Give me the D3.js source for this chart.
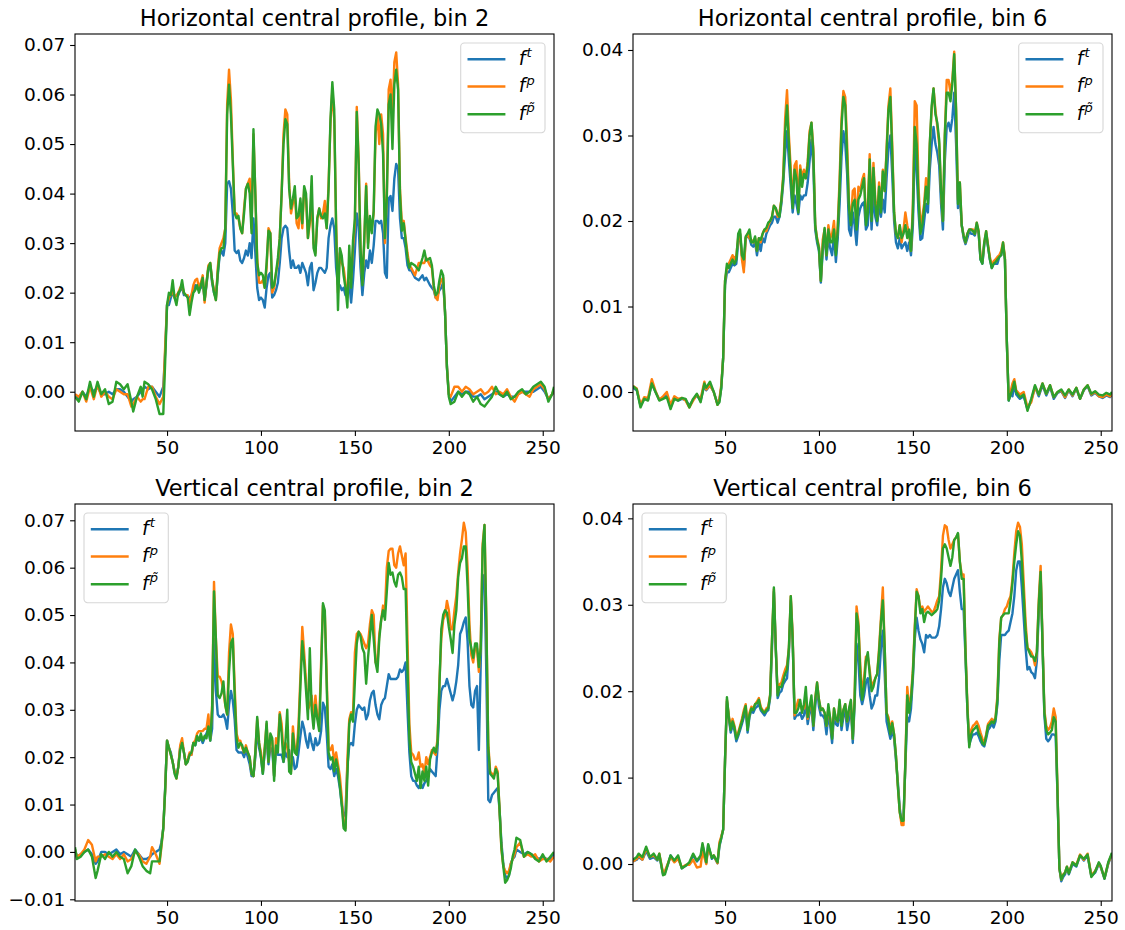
<!DOCTYPE html>
<html>
<head>
<meta charset="utf-8">
<script src="https://cdn.jsdelivr.net/npm/d3@7"></script>
<style>
  html, body { margin: 0; padding: 0; background: #fff; }
  svg { display: block; font-family: "DejaVu Sans", sans-serif; }
</style>
</head>
<body>
<svg id="fig" width="1125" height="930"></svg>
<script>
// ---------------- Horizontal central profile, bin 2 ----------------
const horiz2X = [
  1,3,5,7,9,11,13,15,17,19,
  21,23,25,27,29,31,32,34,36,37,
  38,40,42,44,46,48,49,50,51,52,
  53,54,55,56,57,58,59,60,61,62,
  63,64,65,66,67,68,69,70,71,72,
  73,74,75,76,77,78,79,80,81,82,
  83,84,85,86,87,88,89,90,91,92,
  93,94,95,96,97,98,99,100,101,102,
  103,104,105,106,107,108,109,110,111,112,
  113,114,115,116,117,118,119,120,121,122,
  123,124,125,126,127,128,129,130,131,132,
  133,134,135,136,137,138,139,140,141,142,
  143,144,145,146,147,148,149,150,151,152,
  153,154,155,156,157,158,159,160,161,162,
  163,164,165,166,167,168,169,170,171,172,
  173,174,175,176,177,178,179,180,182,184,
  186,187,188,190,191,192,193,194,195,196,
  197,198,199,200,201,203,205,207,209,211,
  213,215,217,219,221,223,225,227,229,231,
  233,235,237,239,241,243,245,247,249,251,
  253,255,256
];
const horiz2Ft = [
  -0.0005,-0.0015,0,-0.001,0.001,0,0.001,-0.0005,-0.0005,0,
  -0.0005,0.0005,0.0005,0,-0.001,-0.002,-0.0015,-0.001,0,0.0005,
  0.001,0.0005,0.001,0,-0.001,0.001,0.008,0.0175,0.0175,0.019,
  0.02,0.019,0.0195,0.0195,0.0205,0.021,0.0195,0.0195,0.019,0.019,
  0.0195,0.0205,0.0215,0.021,0.0205,0.021,0.0225,0.0185,0.0215,0.025,
  0.0255,0.022,0.02,0.019,0.0235,0.0275,0.0285,0.0275,0.03,0.042,
  0.0425,0.041,0.036,0.0285,0.028,0.0285,0.0265,0.026,0.027,0.0285,
  0.0275,0.03,0.027,0.035,0.028,0.021,0.0185,0.019,0.0185,0.017,
  0.021,0.0235,0.024,0.019,0.0195,0.0205,0.022,0.026,0.031,0.033,
  0.0335,0.033,0.0285,0.025,0.0265,0.025,0.025,0.0255,0.024,0.026,
  0.025,0.024,0.0215,0.025,0.026,0.0205,0.022,0.024,0.025,0.025,
  0.0245,0.024,0.025,0.031,0.0335,0.035,0.033,0.025,0.0215,0.0215,
  0.0205,0.021,0.0195,0.0195,0.022,0.018,0.0225,0.0285,0.036,0.0335,
  0.025,0.0195,0.024,0.0265,0.025,0.0285,0.026,0.0295,0.0345,0.0345,
  0.034,0.0345,0.032,0.024,0.023,0.039,0.0395,0.0365,0.043,0.046,
  0.045,0.035,0.031,0.031,0.029,0.0255,0.0245,0.0245,0.023,0.0225,
  0.0235,0.0225,0.023,0.0215,0.021,0.0205,0.019,0.0195,0.0205,0.021,
  0.022,0.016,0.005,-0.0005,-0.002,-0.001,0,-0.0005,0,0,
  -0.001,-0.001,-0.0005,-0.0015,-0.001,-0.0005,0,-0.0005,-0.001,-0.0005,
  -0.001,-0.001,-0.0005,0,0,0,0,0.0005,0.001,0,
  -0.0015,-0.0005,0
];
const horiz2Fp = [
  -0.0005,-0.001,0,-0.002,0.001,-0.0015,0.0015,-0.001,0,-0.001,
  -0.0015,0.0005,0,-0.0005,-0.0005,-0.003,-0.0025,-0.001,-0.002,-0.0015,
  -0.0015,0.001,0.001,-0.001,-0.0025,-0.001,0.009,0.0175,0.019,0.0195,
  0.0205,0.019,0.0195,0.02,0.021,0.0215,0.02,0.0195,0.0195,0.0175,
  0.0195,0.0215,0.0225,0.0228,0.021,0.022,0.0235,0.018,0.022,0.0255,
  0.026,0.0225,0.0205,0.0185,0.025,0.029,0.03,0.031,0.033,0.058,
  0.065,0.059,0.047,0.036,0.036,0.035,0.033,0.032,0.037,0.041,
  0.042,0.043,0.033,0.052,0.04,0.027,0.022,0.022,0.0225,0.021,
  0.025,0.033,0.032,0.02,0.021,0.024,0.026,0.031,0.04,0.052,
  0.057,0.056,0.042,0.036,0.038,0.04,0.034,0.033,0.038,0.033,
  0.041,0.039,0.031,0.034,0.038,0.03,0.028,0.035,0.037,0.035,
  0.036,0.0385,0.033,0.042,0.054,0.061,0.055,0.034,0.02,0.028,
  0.026,0.025,0.022,0.019,0.025,0.023,0.029,0.034,0.0575,0.047,
  0.029,0.022,0.03,0.042,0.03,0.035,0.033,0.036,0.052,0.056,
  0.05,0.056,0.052,0.03,0.04,0.061,0.063,0.055,0.0665,0.0685,
  0.062,0.041,0.034,0.0345,0.031,0.028,0.0255,0.025,0.0235,0.026,
  0.026,0.026,0.027,0.0255,0.025,0.021,0.019,0.0185,0.0215,0.0225,
  0.023,0.016,0.005,-0.0005,-0.001,0.001,0.001,0,0.001,0.0005,
  -0.0005,0,0.0005,-0.0005,0,0.001,-0.0005,0,-0.0005,0.0005,
  -0.001,-0.002,-0.0005,0,-0.0005,-0.001,0.0005,0.001,0.0015,0.0005,
  -0.0015,-0.0005,0.0005
];
const horiz2Fq = [
  -0.001,-0.002,0,-0.0015,0.002,-0.001,0.002,-0.0005,0.0005,-0.0025,
  -0.002,0.002,0.0015,0.0005,0.0015,-0.002,-0.004,-0.001,0.001,-0.001,
  0.002,0.0015,0.0005,-0.0015,-0.0045,-0.0045,0.006,0.0175,0.02,0.0195,
  0.0225,0.019,0.0175,0.02,0.0205,0.0225,0.02,0.0195,0.019,0.0155,
  0.018,0.02,0.0205,0.0215,0.02,0.0215,0.023,0.0185,0.022,0.025,
  0.026,0.0225,0.02,0.0185,0.024,0.028,0.029,0.029,0.033,0.056,
  0.062,0.056,0.046,0.036,0.035,0.0355,0.033,0.032,0.036,0.041,
  0.042,0.04,0.032,0.053,0.04,0.026,0.0235,0.024,0.0235,0.021,
  0.026,0.0325,0.032,0.021,0.0215,0.024,0.027,0.031,0.04,0.05,
  0.055,0.054,0.041,0.037,0.039,0.0415,0.035,0.0355,0.039,0.034,
  0.0415,0.04,0.031,0.035,0.0435,0.029,0.0275,0.035,0.037,0.0355,
  0.035,0.036,0.033,0.041,0.055,0.0625,0.057,0.033,0.0165,0.029,
  0.0275,0.0235,0.021,0.017,0.0295,0.021,0.0305,0.035,0.0565,0.046,
  0.029,0.0215,0.031,0.0415,0.029,0.0355,0.032,0.0365,0.0535,0.057,
  0.056,0.054,0.048,0.031,0.039,0.058,0.06,0.049,0.062,0.065,
  0.061,0.04,0.0325,0.034,0.0305,0.027,0.025,0.026,0.0255,0.0245,
  0.027,0.0285,0.0265,0.027,0.0255,0.0215,0.0195,0.02,0.0225,0.0245,
  0.0235,0.016,0.005,-0.001,-0.0025,-0.002,0,-0.001,0,-0.0005,
  -0.002,-0.001,-0.0025,-0.003,-0.002,-0.001,0.001,-0.0005,-0.001,0,
  -0.0015,-0.001,0,0.0005,-0.0005,0,0.001,0.0015,0.002,0.001,
  -0.002,-0.0005,0.001
];

// ---------------- Horizontal central profile, bin 6 ----------------
const horiz6X = [
  1,3,5,7,9,11,13,15,17,19,
  21,23,25,27,29,31,33,35,37,39,
  40,42,44,46,47,48,49,50,51,52,
  53,54,55,56,57,58,59,60,61,62,
  63,64,65,66,67,68,69,70,71,72,
  73,74,75,76,77,78,79,80,81,82,
  83,84,85,86,87,88,89,90,91,92,
  93,94,95,96,97,98,99,100,101,102,
  103,104,105,106,107,108,109,110,111,112,
  113,114,115,116,117,118,119,120,121,122,
  123,124,125,126,127,128,129,130,131,132,
  133,134,135,136,137,138,139,140,141,142,
  143,144,145,146,147,148,149,150,151,152,
  153,154,155,156,157,158,159,160,161,162,
  163,164,165,166,167,168,169,170,171,172,
  173,174,175,176,177,178,179,180,181,182,
  183,184,185,186,187,188,189,190,191,192,
  193,194,195,196,197,198,199,200,201,202,
  203,204,205,207,209,211,213,215,217,219,
  221,223,225,227,229,231,233,235,237,239,
  241,243,245,247,249,251,253,255,256
];
const horiz6Ft = [
  0.0005,0.0002,-0.0016,-0.0008,-0.0009,0.001,0,-0.0009,-0.0007,-0.0004,
  -0.0018,-0.0007,-0.001,-0.0008,-0.0009,-0.0016,-0.0009,-0.0004,-0.001,0.0008,
  0.0002,0.0008,0,-0.0014,-0.001,0.0005,0.004,0.0125,0.014,0.014,
  0.0145,0.015,0.0148,0.015,0.0175,0.0185,0.016,0.0145,0.018,0.0182,
  0.018,0.0172,0.017,0.0175,0.016,0.0175,0.0165,0.018,0.0175,0.0185,
  0.019,0.0195,0.0198,0.0205,0.0205,0.0198,0.0205,0.022,0.0245,0.028,
  0.0305,0.027,0.024,0.021,0.023,0.022,0.0208,0.023,0.0225,0.023,
  0.023,0.0245,0.027,0.0295,0.0265,0.019,0.0175,0.0165,0.0128,0.0165,
  0.0185,0.0155,0.018,0.0168,0.016,0.0185,0.0152,0.018,0.022,0.0275,
  0.0305,0.029,0.0255,0.019,0.0183,0.021,0.0195,0.0172,0.0205,0.0215,
  0.022,0.0222,0.019,0.0195,0.024,0.019,0.023,0.0205,0.0195,0.022,
  0.0205,0.0225,0.021,0.025,0.0285,0.03,0.0255,0.02,0.0175,0.0168,
  0.018,0.0168,0.0172,0.0175,0.0165,0.0175,0.016,0.0195,0.0285,0.026,
  0.021,0.0178,0.018,0.02,0.022,0.021,0.026,0.029,0.031,0.029,
  0.028,0.0265,0.022,0.019,0.027,0.031,0.0315,0.0305,0.032,0.035,
  0.029,0.0215,0.023,0.0195,0.018,0.0173,0.018,0.0188,0.0185,0.0185,
  0.0183,0.0195,0.0185,0.0155,0.015,0.0172,0.0185,0.017,0.0155,0.0145,
  0.015,0.015,0.015,0.0158,0.016,0.0172,0.0155,0.006,-0.001,-0.0002,
  -0.0005,0.001,-0.0003,-0.0008,-0.0005,-0.002,-0.001,0.0006,-0.0005,0.0008,
  -0.0004,0.0006,-0.0008,-0.0001,0.0001,-0.0007,0.0002,-0.0005,0.0004,-0.0008,
  0.0002,0.0007,-0.0004,-0.0001,-0.0005,-0.0007,-0.0004,-0.0006,-0.0003
];
const horiz6Fp = [
  0.0007,0.0004,-0.0015,-0.0006,-0.0007,0.0015,0.0001,-0.0009,-0.0005,0,
  -0.0015,-0.0005,-0.0008,-0.0007,-0.001,-0.0018,-0.001,-0.0003,-0.0008,0.0012,
  0.0003,0.0008,0,-0.0015,-0.0008,0.0008,0.004,0.013,0.0145,0.015,
  0.0155,0.016,0.0155,0.016,0.018,0.0185,0.0155,0.014,0.018,0.0185,
  0.018,0.0178,0.0175,0.018,0.0165,0.018,0.0175,0.0185,0.019,0.0188,
  0.0195,0.02,0.0205,0.0218,0.0215,0.0205,0.021,0.0225,0.0255,0.032,
  0.0353,0.03,0.026,0.022,0.0265,0.027,0.0215,0.0265,0.025,0.026,
  0.025,0.027,0.0305,0.0315,0.0285,0.0195,0.018,0.017,0.013,0.0178,
  0.019,0.016,0.0195,0.018,0.0185,0.02,0.0165,0.0195,0.025,0.032,
  0.0352,0.0345,0.029,0.022,0.02,0.0235,0.0238,0.0195,0.024,0.0235,
  0.0248,0.0255,0.0205,0.0215,0.0278,0.0205,0.0268,0.0225,0.0205,0.0245,
  0.0215,0.026,0.0235,0.0285,0.0335,0.0355,0.029,0.021,0.0185,0.018,
  0.0195,0.0175,0.019,0.021,0.0195,0.0185,0.0165,0.022,0.034,0.0335,
  0.024,0.0195,0.0205,0.022,0.025,0.0225,0.029,0.033,0.0355,0.033,
  0.031,0.029,0.0235,0.02,0.03,0.0365,0.0365,0.035,0.0365,0.0398,
  0.033,0.0225,0.0245,0.0195,0.0183,0.0175,0.0185,0.019,0.019,0.019,
  0.0185,0.0198,0.0188,0.0158,0.0153,0.0175,0.0188,0.0172,0.0158,0.0148,
  0.0153,0.0155,0.0158,0.016,0.0165,0.0175,0.0158,0.006,-0.0008,0,
  0.001,0.0015,0.0002,-0.0003,0,-0.0018,-0.0012,0.0006,-0.0003,0.001,
  -0.0002,0.0008,-0.0006,0,0.0002,-0.0006,0.0003,-0.0004,0.0005,-0.0008,
  0.0003,0.0008,-0.0003,0,-0.0005,-0.0006,-0.0003,-0.0005,-0.0002
];
const horiz6Fq = [
  0.0007,0.0003,-0.0018,-0.0008,-0.001,0.001,0,-0.001,-0.0008,-0.0006,
  -0.002,-0.0008,-0.001,-0.0007,-0.0008,-0.0018,-0.0008,-0.0002,-0.0012,0.001,
  0.0005,0.0012,0,-0.0015,-0.0012,0.0005,0.004,0.013,0.015,0.0145,
  0.015,0.0155,0.015,0.0155,0.0185,0.019,0.016,0.0155,0.0182,0.0185,
  0.019,0.0175,0.0175,0.0182,0.0165,0.018,0.0178,0.0185,0.019,0.0192,
  0.0198,0.02,0.0205,0.0218,0.0215,0.0208,0.0205,0.0225,0.025,0.0305,
  0.0335,0.029,0.025,0.0215,0.026,0.025,0.021,0.026,0.024,0.0255,
  0.025,0.0265,0.03,0.0315,0.028,0.0195,0.0178,0.0168,0.013,0.017,
  0.0192,0.016,0.019,0.0175,0.0175,0.019,0.016,0.019,0.024,0.031,
  0.0345,0.0335,0.0275,0.0215,0.0195,0.022,0.0225,0.019,0.0225,0.023,
  0.024,0.025,0.0195,0.021,0.0272,0.02,0.0262,0.022,0.02,0.024,
  0.021,0.0258,0.0235,0.028,0.033,0.0345,0.028,0.021,0.0185,0.018,
  0.0195,0.018,0.0185,0.0195,0.018,0.019,0.0165,0.021,0.031,0.029,
  0.0225,0.0185,0.0195,0.0215,0.024,0.022,0.029,0.0335,0.0355,0.0325,
  0.0315,0.0295,0.0235,0.02,0.03,0.035,0.035,0.034,0.036,0.0395,
  0.033,0.022,0.0245,0.0195,0.0183,0.0175,0.0185,0.019,0.019,0.0188,
  0.0185,0.0198,0.0188,0.0155,0.015,0.0175,0.0188,0.017,0.0155,0.0145,
  0.015,0.0152,0.0155,0.0158,0.016,0.0175,0.0155,0.006,-0.001,-0.0003,
  0.0003,0.0012,0,-0.0006,-0.0003,-0.0022,-0.0008,0.0008,-0.0003,0.001,
  -0.0002,0.0008,-0.0006,0,0.0003,-0.0004,0.0003,-0.0003,0.0005,-0.0008,
  0.0003,0.0008,-0.0002,0.0001,-0.0003,-0.0004,-0.0001,-0.0003,0
];

// ---------------- Vertical central profile, bin 2 ----------------
const vert2X = [
  1,2,4,6,8,10,12,13,15,17,
  19,21,23,25,27,29,31,33,35,37,
  39,41,42,44,46,47,48,49,50,51,
  52,53,54,55,56,57,58,59,60,61,
  62,63,64,65,66,67,68,69,70,71,
  72,73,74,75,76,77,78,79,80,81,
  82,83,84,85,86,87,88,89,90,91,
  92,93,94,95,96,97,98,99,100,101,
  102,103,104,105,106,107,108,109,110,111,
  112,113,114,115,116,117,118,119,120,121,
  122,123,124,125,126,127,128,129,130,131,
  132,133,134,135,136,137,138,139,140,141,
  142,143,144,145,146,147,148,149,150,151,
  152,153,154,155,156,157,158,159,160,161,
  162,163,164,165,166,167,168,169,170,171,
  172,173,174,175,176,177,178,179,180,181,
  182,183,184,185,186,187,188,189,190,191,
  192,193,194,195,196,197,198,199,200,201,
  202,203,204,205,206,207,208,209,210,211,
  212,213,214,215,216,217,218,219,220,221,
  222,223,224,225,226,227,228,229,230,231,
  232,233,234,235,236,238,240,242,244,246,
  248,250,252,254,256
];
const vert2Ft = [
  0.0005,-0.001,-0.0005,0,0.0005,-0.0005,-0.0025,-0.002,0,0,
  -0.0005,0,0.0005,-0.0005,0,-0.0005,-0.001,0.0005,-0.0005,-0.0015,
  -0.0015,-0.001,-0.0005,0,0.0005,0.002,0.005,0.0135,0.0235,0.022,
  0.021,0.019,0.017,0.016,0.018,0.022,0.023,0.021,0.0185,0.0195,
  0.0205,0.0205,0.023,0.0225,0.024,0.0235,0.024,0.023,0.024,0.025,
  0.026,0.0235,0.026,0.045,0.034,0.029,0.0285,0.0285,0.029,0.028,
  0.026,0.031,0.034,0.032,0.028,0.0215,0.021,0.021,0.021,0.02,
  0.0215,0.02,0.0185,0.016,0.016,0.02,0.026,0.022,0.02,0.0165,
  0.0215,0.024,0.0185,0.022,0.0215,0.016,0.022,0.0205,0.0205,0.0205,
  0.019,0.021,0.02,0.0215,0.018,0.02,0.0175,0.018,0.021,0.0245,
  0.0275,0.026,0.0235,0.022,0.025,0.023,0.0215,0.024,0.0225,0.023,
  0.0255,0.0315,0.0305,0.025,0.018,0.0175,0.0185,0.016,0.0175,0.016,
  0.0135,0.01,0.0075,0.0085,0.018,0.0225,0.023,0.0225,0.027,0.03,
  0.031,0.0305,0.03,0.0305,0.028,0.029,0.032,0.0335,0.034,0.031,
  0.029,0.028,0.031,0.032,0.0325,0.035,0.0375,0.0365,0.0365,0.0365,
  0.0365,0.037,0.0385,0.038,0.0385,0.04,0.03,0.021,0.016,0.015,
  0.015,0.014,0.0135,0.0145,0.0135,0.0145,0.015,0.016,0.0175,0.017,
  0.0165,0.016,0.022,0.03,0.034,0.035,0.035,0.0365,0.035,0.0335,
  0.032,0.0335,0.036,0.0395,0.046,0.047,0.0485,0.0495,0.0445,0.035,
  0.031,0.0305,0.034,0.035,0.0215,0.04,0.058,0.0585,0.037,0.011,
  0.0105,0.012,0.0125,0.013,0.0135,0.009,0.002,-0.0025,-0.005,-0.0055,
  -0.005,-0.0025,-0.0015,-0.001,0.0005,0,-0.0005,0,-0.0005,-0.001,
  -0.0015,-0.001,-0.0015,-0.0015,-0.0005
];
const vert2Fp = [
  0.0005,-0.001,-0.0005,0.0005,0.0025,0.0015,-0.002,-0.001,-0.001,-0.0005,
  -0.001,-0.0015,-0.0005,-0.0015,-0.0005,-0.002,-0.0015,0,-0.0005,-0.002,
  -0.0025,-0.001,0.001,-0.0005,-0.0025,0.001,0.005,0.013,0.0235,0.022,
  0.0205,0.019,0.017,0.0155,0.018,0.0225,0.024,0.021,0.0185,0.0195,
  0.021,0.0205,0.023,0.0235,0.025,0.0255,0.0255,0.0255,0.026,0.026,
  0.029,0.024,0.031,0.057,0.045,0.037,0.037,0.036,0.034,0.031,
  0.029,0.042,0.048,0.046,0.035,0.025,0.0235,0.0235,0.022,0.021,
  0.0225,0.021,0.02,0.0165,0.016,0.021,0.028,0.023,0.021,0.017,
  0.022,0.027,0.019,0.024,0.0235,0.016,0.024,0.023,0.0295,0.027,
  0.021,0.023,0.022,0.019,0.017,0.0265,0.022,0.021,0.027,0.037,
  0.0475,0.042,0.036,0.03,0.031,0.033,0.0275,0.033,0.0285,0.027,
  0.04,0.052,0.05,0.037,0.022,0.0215,0.0225,0.019,0.021,0.0185,
  0.016,0.0115,0.0055,0.005,0.0195,0.028,0.0295,0.029,0.042,0.046,
  0.0465,0.046,0.045,0.044,0.043,0.044,0.048,0.051,0.05,0.04,
  0.0395,0.046,0.049,0.052,0.051,0.06,0.0635,0.064,0.064,0.0605,
  0.06,0.063,0.0645,0.0625,0.0605,0.063,0.045,0.027,0.021,0.0205,
  0.0195,0.0195,0.021,0.018,0.0185,0.0165,0.02,0.0185,0.02,0.0215,
  0.021,0.0205,0.024,0.036,0.045,0.049,0.05,0.053,0.051,0.047,
  0.047,0.051,0.054,0.059,0.063,0.066,0.0695,0.0675,0.06,0.048,
  0.0415,0.04,0.043,0.043,0.038,0.044,0.065,0.069,0.049,0.023,
  0.017,0.0165,0.016,0.018,0.017,0.009,0.0005,-0.003,-0.004,-0.0045,
  -0.004,-0.0025,-0.0015,-0.0005,0.001,0.002,-0.001,-0.0005,-0.001,-0.0005,
  -0.002,-0.0015,-0.0015,-0.002,-0.001
];
const vert2Fq = [
  0.001,-0.0015,-0.001,0,0.0005,-0.001,-0.0055,-0.004,-0.0005,-0.0015,
  0,-0.001,0,-0.001,-0.0015,-0.0045,-0.003,0.0005,-0.001,-0.003,
  -0.004,-0.0045,-0.002,-0.002,-0.002,0.0015,0.005,0.013,0.0235,0.022,
  0.0205,0.019,0.0165,0.0155,0.018,0.0215,0.023,0.021,0.0185,0.019,
  0.0205,0.021,0.023,0.0225,0.0245,0.0235,0.025,0.0235,0.0245,0.024,
  0.0265,0.0235,0.03,0.055,0.045,0.033,0.0325,0.0335,0.036,0.031,
  0.029,0.038,0.044,0.045,0.033,0.024,0.022,0.023,0.0225,0.021,
  0.022,0.021,0.02,0.0165,0.016,0.021,0.0285,0.023,0.02,0.0165,
  0.0215,0.0275,0.019,0.025,0.024,0.015,0.0225,0.021,0.029,0.025,
  0.019,0.023,0.03,0.017,0.0165,0.025,0.021,0.0205,0.025,0.035,
  0.0445,0.04,0.034,0.028,0.043,0.03,0.026,0.031,0.028,0.0255,
  0.038,0.0525,0.051,0.035,0.021,0.0195,0.02,0.017,0.0195,0.0175,
  0.014,0.01,0.005,0.0045,0.016,0.027,0.029,0.0275,0.036,0.044,
  0.0465,0.0455,0.043,0.042,0.0355,0.041,0.0455,0.05,0.045,0.04,
  0.038,0.045,0.049,0.051,0.049,0.055,0.061,0.0585,0.059,0.057,
  0.056,0.0585,0.059,0.058,0.0555,0.0555,0.039,0.024,0.019,0.018,
  0.0165,0.015,0.018,0.0135,0.017,0.015,0.018,0.014,0.0195,0.021,
  0.022,0.021,0.023,0.035,0.047,0.05,0.051,0.0505,0.0475,0.045,
  0.042,0.048,0.051,0.058,0.061,0.062,0.0645,0.0645,0.056,0.045,
  0.043,0.041,0.044,0.044,0.039,0.043,0.064,0.069,0.048,0.022,
  0.0165,0.016,0.0155,0.0175,0.0165,0.009,0.001,-0.003,-0.0065,-0.006,
  -0.005,-0.0035,-0.001,0.0005,0.003,0.0025,-0.001,0,-0.0005,-0.0015,
  -0.002,-0.0005,-0.002,-0.001,0
];

// ---------------- Vertical central profile, bin 6 ----------------
const vert6X = [
  1,3,4,6,8,10,12,14,15,17,
  18,20,21,23,25,27,29,31,33,35,
  37,38,40,41,43,44,46,47,48,49,
  50,51,52,53,54,55,56,57,58,59,
  60,61,62,63,64,65,66,67,68,69,
  70,71,72,73,74,75,76,77,78,79,
  80,81,82,83,84,85,86,87,88,89,
  90,91,92,93,94,95,96,97,98,99,
  100,101,102,103,104,105,106,107,108,109,
  110,111,112,113,114,115,116,117,118,119,
  120,121,122,123,124,125,126,127,128,129,
  130,131,132,133,134,135,136,137,138,139,
  140,141,142,143,144,145,146,147,148,149,
  150,151,152,153,154,155,156,157,158,159,
  160,161,162,163,164,165,166,167,168,169,
  170,171,172,173,174,175,176,177,178,179,
  180,181,182,183,184,185,186,187,188,189,
  190,191,192,193,194,195,196,197,198,199,
  200,201,202,203,204,205,206,207,208,209,
  210,211,212,213,214,215,216,217,218,219,
  220,221,222,223,224,225,226,227,228,229,
  230,231,232,233,235,237,239,241,243,245,
  247,249,250,252,254,256
];
const vert6Ft = [
  0.0003,0.0005,0.0008,0.0005,0.0015,0.0006,0.0008,0.0004,0.001,-0.0012,
  -0.001,0.0002,0.001,0.0003,0.0008,-0.0005,-0.0002,0,0.001,0.0003,
  0.0008,0.0022,0.0001,0.0022,0.0006,0.0009,0.0001,0.002,0.003,0.004,
  0.012,0.0188,0.017,0.0152,0.016,0.0155,0.0142,0.0148,0.0155,0.0162,
  0.017,0.018,0.0152,0.017,0.0178,0.0175,0.018,0.0182,0.0185,0.0178,
  0.0175,0.0172,0.0176,0.0178,0.0192,0.025,0.0315,0.025,0.0192,0.0198,
  0.02,0.0208,0.0212,0.0215,0.0245,0.0305,0.026,0.0168,0.0172,0.0172,
  0.0175,0.0168,0.0172,0.0185,0.0162,0.0175,0.0182,0.0155,0.0182,0.0205,
  0.0182,0.0172,0.0172,0.0168,0.015,0.0172,0.016,0.014,0.0172,0.0162,
  0.016,0.0182,0.0155,0.017,0.0178,0.0155,0.0168,0.018,0.014,0.0185,
  0.0255,0.0235,0.0195,0.0185,0.0195,0.021,0.0215,0.0195,0.018,0.0185,
  0.0195,0.0195,0.0215,0.025,0.027,0.022,0.0165,0.0155,0.0145,0.0155,
  0.0145,0.012,0.0095,0.0065,0.0048,0.0052,0.0115,0.017,0.0165,0.018,
  0.0215,0.026,0.0285,0.027,0.026,0.0255,0.0245,0.0265,0.0262,0.0265,
  0.0262,0.0262,0.0262,0.0265,0.0275,0.0295,0.032,0.033,0.0325,0.0315,
  0.031,0.032,0.033,0.0335,0.034,0.0315,0.0295,0.0295,0.024,0.018,
  0.0138,0.0145,0.015,0.015,0.0152,0.0148,0.0142,0.0138,0.0136,0.0145,
  0.0155,0.0158,0.0162,0.0158,0.0165,0.0185,0.0235,0.0265,0.0265,0.0265,
  0.0268,0.027,0.028,0.029,0.031,0.034,0.035,0.035,0.032,0.0285,
  0.025,0.0225,0.0228,0.0222,0.022,0.0215,0.0235,0.029,0.0335,0.0255,
  0.0172,0.0145,0.0142,0.0145,0.015,0.015,0.0148,0.008,-0.0005,-0.002,
  -0.0015,-0.0012,-0.0004,-0.0012,0,-0.0003,0.001,0.0004,0.001,-0.0014,
  -0.001,0,-0.0004,-0.0017,0,0.0012
];
const vert6Fp = [
  0.0003,0.0006,0.001,0.0005,0.0018,0.0008,0.001,0.0005,0.0012,-0.001,
  -0.0008,0.0003,0.0008,0.0002,0.0006,-0.0004,-0.0001,-0.0001,0.0005,-0.0004,
  -0.0003,0.0015,0,0.0018,0.0008,0.001,0.0001,0.0025,0.0032,0.004,
  0.012,0.019,0.0172,0.0158,0.0168,0.016,0.0148,0.0152,0.016,0.0168,
  0.0178,0.0185,0.0158,0.0175,0.0182,0.018,0.0185,0.0188,0.0192,0.0182,
  0.0178,0.0176,0.018,0.0182,0.0196,0.026,0.0318,0.025,0.0198,0.0208,
  0.021,0.0218,0.0225,0.023,0.025,0.031,0.0265,0.0172,0.0182,0.019,
  0.0185,0.0178,0.018,0.0195,0.0168,0.018,0.019,0.016,0.0192,0.021,
  0.019,0.0178,0.018,0.0175,0.016,0.018,0.0168,0.0148,0.018,0.0168,
  0.0165,0.0188,0.0162,0.0178,0.0185,0.0165,0.0178,0.0188,0.0145,0.0195,
  0.0298,0.028,0.023,0.0195,0.0215,0.024,0.024,0.0225,0.0205,0.021,
  0.0215,0.022,0.025,0.0285,0.032,0.025,0.0175,0.017,0.0155,0.0165,
  0.015,0.0125,0.009,0.006,0.0045,0.0045,0.012,0.0205,0.018,0.0195,
  0.0225,0.0275,0.0318,0.031,0.0295,0.0298,0.0292,0.0295,0.0298,0.0295,
  0.0292,0.0292,0.0298,0.0305,0.031,0.034,0.038,0.0392,0.039,0.0375,
  0.0365,0.037,0.0375,0.0378,0.0382,0.035,0.0335,0.0335,0.025,0.0185,
  0.014,0.0155,0.016,0.0162,0.0165,0.016,0.0152,0.0145,0.014,0.015,
  0.0162,0.0165,0.0168,0.0165,0.017,0.0195,0.026,0.0285,0.0288,0.0295,
  0.0298,0.0305,0.031,0.033,0.036,0.0385,0.0395,0.039,0.037,0.0325,
  0.028,0.025,0.0248,0.0245,0.024,0.023,0.0245,0.0305,0.0345,0.026,
  0.0178,0.016,0.0155,0.0158,0.0165,0.018,0.017,0.0085,-0.0005,-0.0018,
  -0.0012,-0.001,-0.0003,-0.001,0.0002,-0.0001,0.0011,0.0005,0.0012,-0.0013,
  -0.0008,0.0001,-0.0003,-0.0016,0.0001,0.0012
];
const vert6Fq = [
  0.0005,0.0008,0.0012,0.0008,0.002,0.0008,0.0012,0.0005,0.0012,-0.0013,
  -0.0012,0.0003,0.001,0.0004,0.001,-0.0005,-0.0002,0.0002,0.0012,0.0004,
  0.001,0.0024,0.0002,0.0023,0.0007,0.001,0.0002,0.0022,0.003,0.004,
  0.012,0.0193,0.017,0.0155,0.0165,0.0158,0.0145,0.015,0.0158,0.0165,
  0.0175,0.0183,0.0155,0.0172,0.018,0.0178,0.0185,0.0186,0.019,0.018,
  0.0177,0.0175,0.0178,0.018,0.0195,0.026,0.032,0.025,0.0195,0.0205,
  0.0205,0.0212,0.022,0.0225,0.025,0.031,0.026,0.0175,0.0175,0.018,
  0.019,0.0175,0.0185,0.0205,0.017,0.0182,0.0195,0.016,0.019,0.021,
  0.019,0.0178,0.018,0.0175,0.016,0.0185,0.0168,0.0145,0.018,0.0168,
  0.0165,0.019,0.016,0.0178,0.0185,0.0165,0.018,0.019,0.0145,0.019,
  0.029,0.0275,0.022,0.019,0.0205,0.0235,0.0245,0.022,0.02,0.0205,
  0.0215,0.022,0.0245,0.028,0.0305,0.025,0.0175,0.0165,0.015,0.0163,
  0.015,0.0125,0.009,0.006,0.005,0.005,0.0118,0.0195,0.0175,0.019,
  0.022,0.027,0.0315,0.031,0.029,0.0295,0.028,0.029,0.0292,0.029,
  0.0288,0.029,0.0292,0.0295,0.0305,0.033,0.0365,0.037,0.0365,0.0355,
  0.0345,0.0355,0.0375,0.0378,0.0383,0.035,0.033,0.033,0.0245,0.018,
  0.0135,0.015,0.0155,0.0157,0.016,0.0152,0.0147,0.014,0.0138,0.0148,
  0.016,0.0162,0.0165,0.0163,0.0168,0.019,0.0255,0.0285,0.0288,0.029,
  0.029,0.029,0.0305,0.0325,0.035,0.037,0.0385,0.038,0.035,0.031,
  0.027,0.025,0.0245,0.024,0.024,0.0235,0.0245,0.03,0.0338,0.0255,
  0.0175,0.0155,0.015,0.0152,0.0155,0.017,0.0165,0.008,-0.0005,-0.0018,
  -0.0013,-0.001,-0.0003,-0.0011,0.0002,-0.0002,0.001,0.0006,0.0011,-0.0015,
  -0.0009,0.0002,-0.0002,-0.0017,0.0002,0.0013
];

// Axis tick values and legend labels
const xTicks = [50, 100, 150, 200, 250];
const yTicksBin2 = [0, 0.01, 0.02, 0.03, 0.04, 0.05, 0.06, 0.07];
const yTicksBin2Vert = [-0.01, 0, 0.01, 0.02, 0.03, 0.04, 0.05, 0.06, 0.07];
const yTicksBin6 = [0, 0.01, 0.02, 0.03, 0.04];
const legendSup = ["t", "p", "p\u0303"];

// ---------------- Drawing ----------------
const COLORS = ["#1f77b4", "#ff7f0e", "#2ca02c"];
const FONT = 18;
const LINE_W = 2.4;
const svg = d3.select("#fig");
svg.append("rect").attr("width", 1125).attr("height", 930).attr("fill", "#fff");

const PW = 479, PH = 397;
const panels = [
  { id: "a", left: 75,  top: 34,  title: "Horizontal central profile, bin 2",
    xs: horiz2X, series: [horiz2Ft, horiz2Fp, horiz2Fq],
    yDomain: [-0.00793, 0.07222], yTicks: yTicksBin2, legend: "right" },
  { id: "b", left: 633, top: 34,  title: "Horizontal central profile, bin 6",
    xs: horiz6X, series: [horiz6Ft, horiz6Fp, horiz6Fq],
    yDomain: [-0.00456, 0.04187], yTicks: yTicksBin6, legend: "right" },
  { id: "c", left: 75,  top: 504, title: "Vertical central profile, bin 2",
    xs: vert2X, series: [vert2Ft, vert2Fp, vert2Fq],
    yDomain: [-0.01036, 0.07344], yTicks: yTicksBin2Vert, legend: "left" },
  { id: "d", left: 633, top: 504, title: "Vertical central profile, bin 6",
    xs: vert6X, series: [vert6Ft, vert6Fp, vert6Fq],
    yDomain: [-0.00428, 0.04166], yTicks: yTicksBin6, legend: "left" }
];

const fmt = d3.format(".2f");

panels.forEach(p => {
  const x = d3.scaleLinear().domain([1, 256]).range([p.left, p.left + PW]);
  const y = d3.scaleLinear().domain(p.yDomain).range([p.top + PH, p.top]);
  const g = svg.append("g");

  g.append("clipPath").attr("id", "clip-" + p.id)
    .append("rect").attr("x", p.left).attr("y", p.top).attr("width", PW).attr("height", PH);

  const plot = g.append("g").attr("clip-path", "url(#clip-" + p.id + ")");
  p.series.forEach((vals, k) => {
    const n = Math.min(vals.length, p.xs.length);
    const pts = d3.range(n).map(i => [p.xs[i], vals[i]]);
    const line = d3.line().x(d => x(d[0])).y(d => y(d[1]));
    plot.append("path")
      .attr("d", line(pts))
      .attr("fill", "none")
      .attr("stroke", COLORS[k])
      .attr("stroke-width", LINE_W)
      .attr("stroke-linejoin", "round")
      .attr("stroke-linecap", "butt");
  });

  // x axis
  const xa = g.append("g").attr("transform", `translate(0,${p.top + PH})`)
    .call(d3.axisBottom(x).tickValues(xTicks).tickSize(4.9).tickSizeOuter(0).tickPadding(4.9).tickFormat(d3.format("d")));
  // y axis
  const ya = g.append("g").attr("transform", `translate(${p.left},0)`)
    .call(d3.axisLeft(y).tickValues(p.yTicks).tickSize(4.9).tickSizeOuter(0).tickPadding(4.9).tickFormat(fmt));
  [xa, ya].forEach(a => {
    a.select(".domain").remove();
    a.attr("font-family", null).attr("font-size", null);
    a.selectAll(".tick line").attr("stroke", "#000").attr("stroke-width", 1.1);
    a.selectAll(".tick text").attr("fill", "#000").style("font-size", "18.5px")
      .style("font-family", "'DejaVu Sans', sans-serif");
  });

  // frame
  g.append("rect").attr("x", p.left).attr("y", p.top).attr("width", PW).attr("height", PH)
    .attr("fill", "none").attr("stroke", "#000").attr("stroke-width", 1.1);

  // title
  g.append("text").attr("x", p.left + PW / 2).attr("y", p.top - 8.5)
    .attr("text-anchor", "middle").style("font-size", "22.5px").attr("fill", "#000")
    .text(p.title);

  // legend
  const lw = 84.3, lh = 89.7;
  const lx = p.legend === "right" ? p.left + PW - 9 - lw : p.left + 9;
  const ly = p.top + 9;
  const lg = g.append("g");
  lg.append("rect").attr("x", lx).attr("y", ly).attr("width", lw).attr("height", lh)
    .attr("rx", 3.6).attr("ry", 3.6)
    .attr("fill", "rgba(255,255,255,0.8)").attr("stroke", "rgba(204,204,204,0.8)").attr("stroke-width", 1.1);
  const rows = [16.3, 43.5, 71.2];
  legendSup.forEach((sup, k) => {
    const cy = ly + rows[k];
    lg.append("line").attr("x1", lx + 8).attr("x2", lx + 43.5).attr("y1", cy).attr("y2", cy)
      .attr("stroke", COLORS[k]).attr("stroke-width", LINE_W).attr("stroke-linecap", "square");
    const t = lg.append("text").attr("x", lx + 58).attr("y", cy + 5.5).attr("fill", "#000")
      .style("font-size", "19px").style("font-style", "italic");
    t.append("tspan").text("f");
    t.append("tspan").attr("dx", 1).attr("dy", -7.5).style("font-size", "13px").text(sup);
  });
});
</script>
</body>
</html>
